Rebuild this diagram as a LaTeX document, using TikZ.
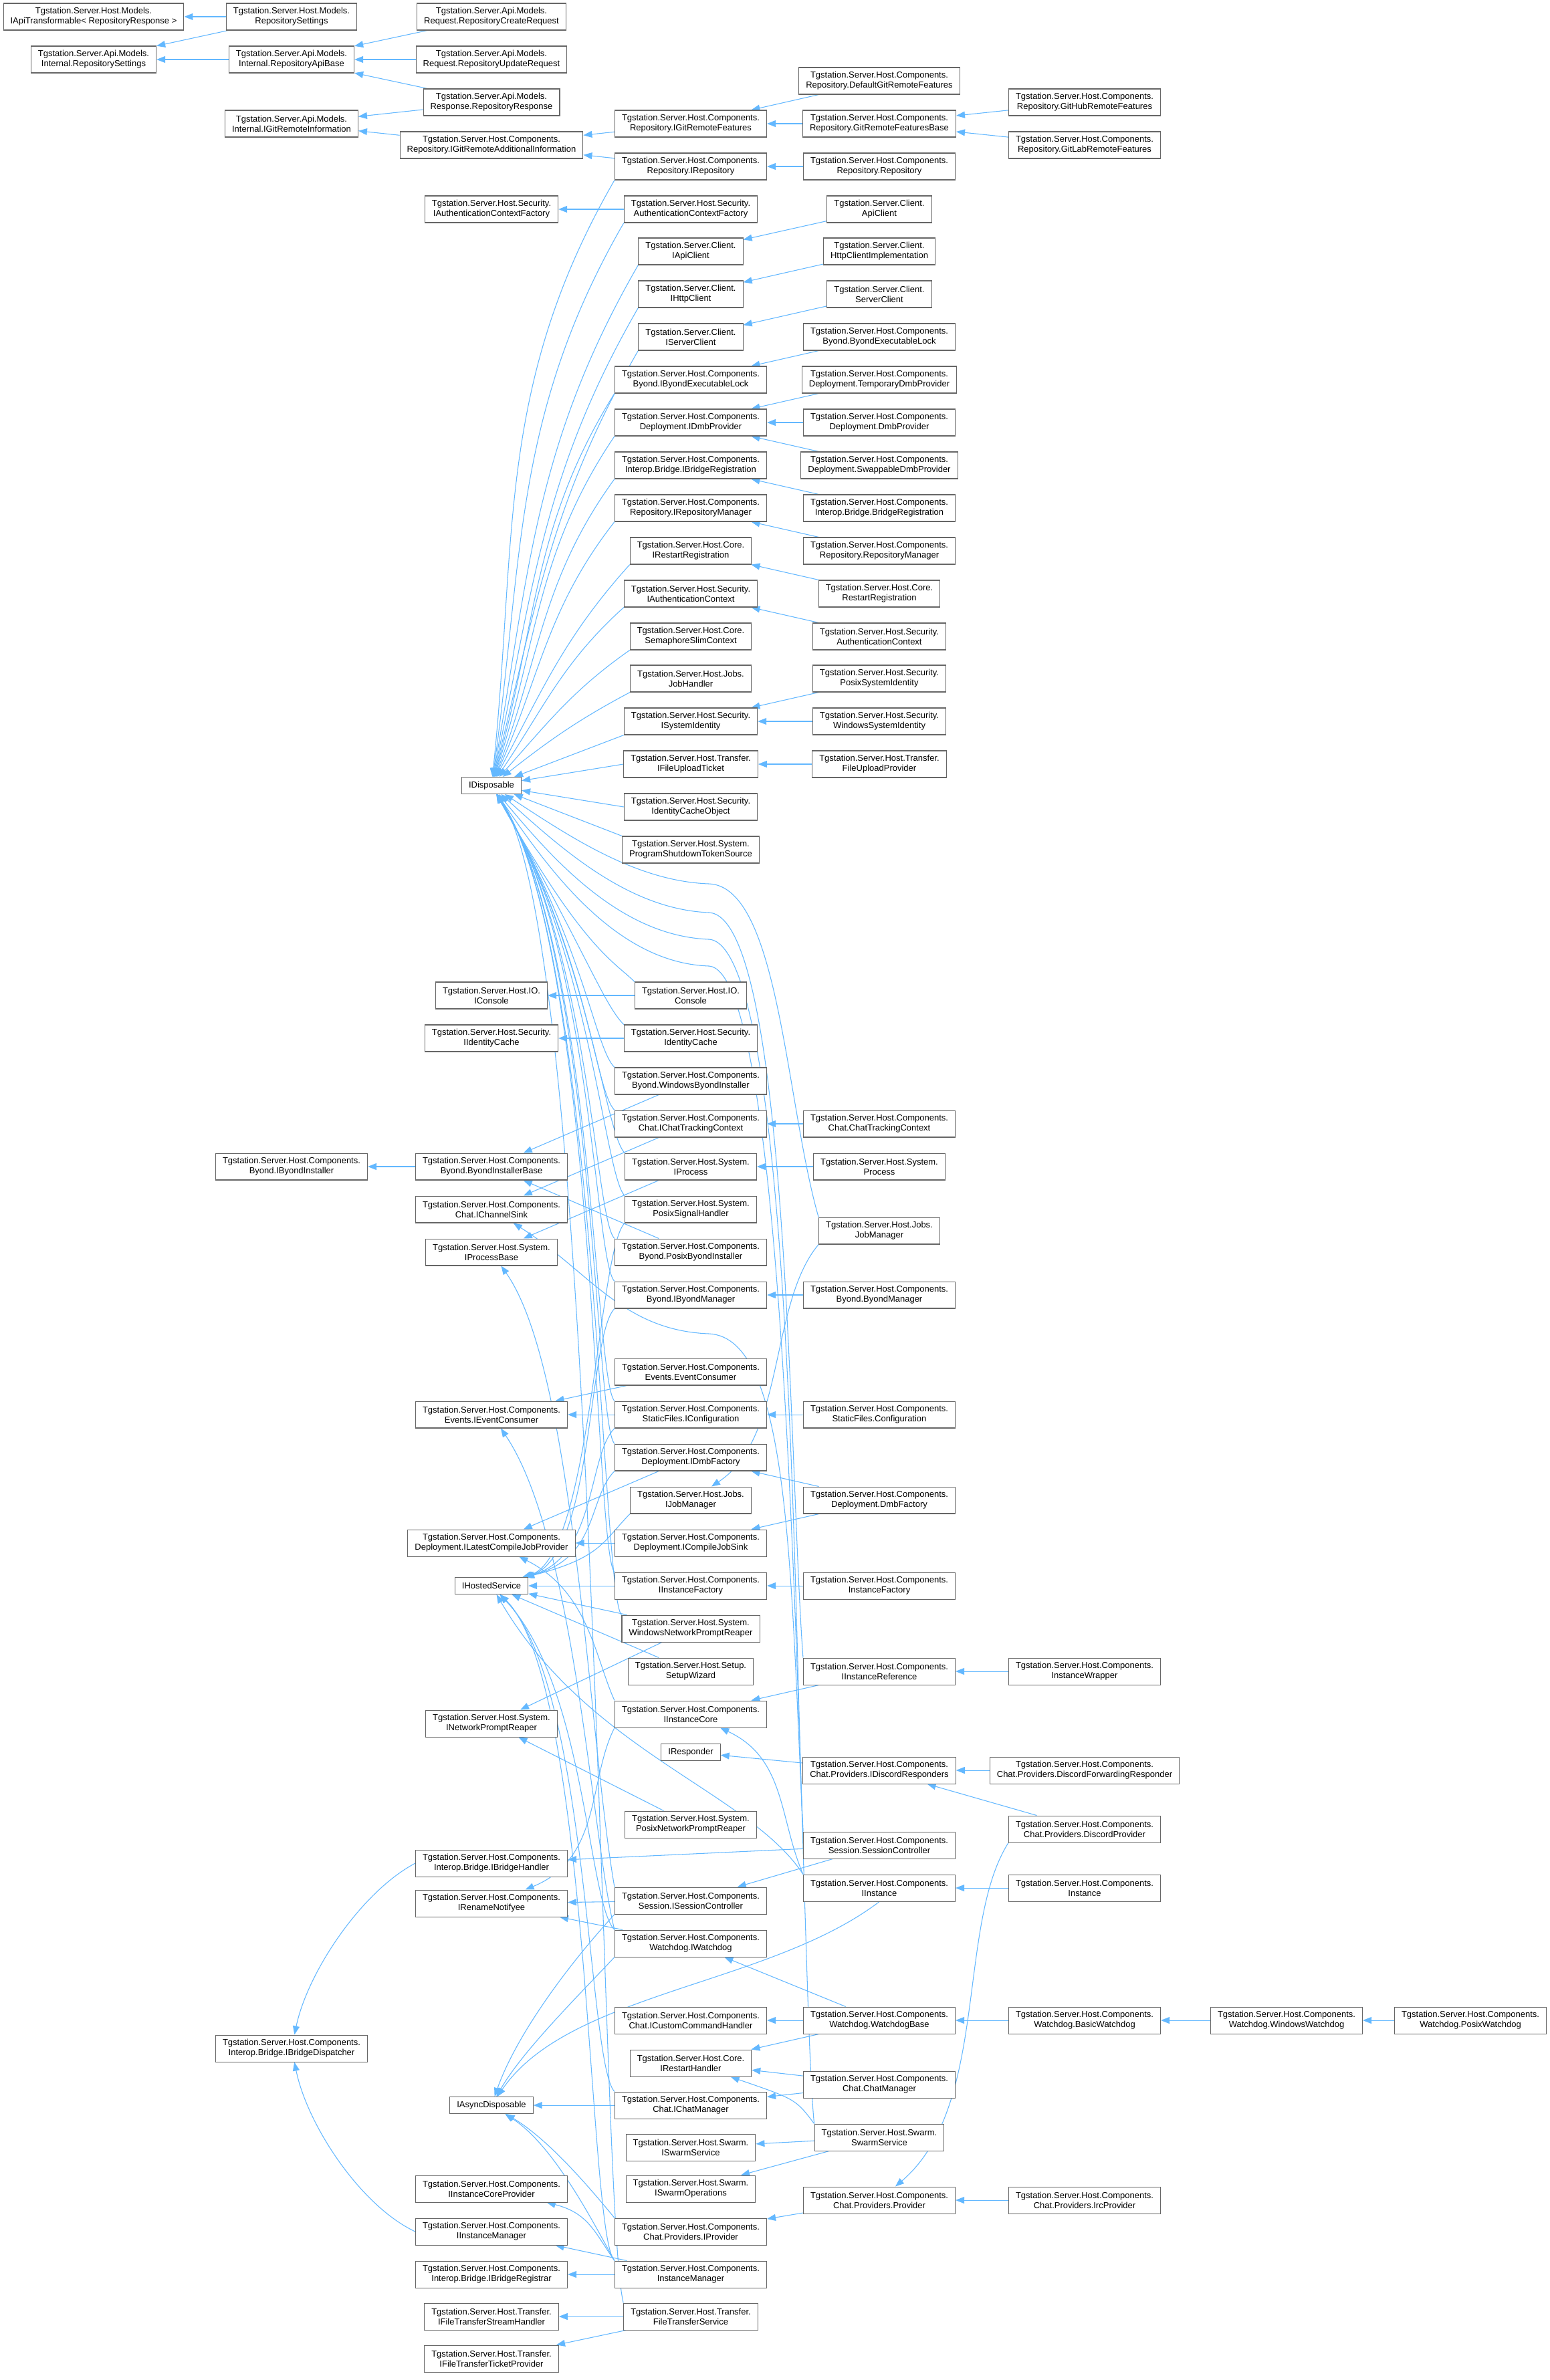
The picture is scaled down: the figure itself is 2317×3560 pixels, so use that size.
\documentclass[tikz,border=0pt]{standalone}
\usepackage{fontspec}
\setmainfont{Liberation Sans}
\usetikzlibrary{arrows.meta, backgrounds}
\definecolor{edgeblue}{HTML}{63B8FF}
\definecolor{boxgray}{HTML}{666666}
\newcommand{\hostc}{Tgstation.Server.Host.Components.}

\begin{document}
\begin{tikzpicture}[x=0.02cm, y=-0.02cm, >={Triangle[length=0.26cm,width=0.2cm]},
    cls/.style={draw=boxgray, fill=white, line width=0.6pt, align=center,
      inner xsep=6pt, inner ysep=0pt, minimum height=0.8cm,
      font=\fontsize{7.4}{8.5}\selectfont},
    cls1/.style={cls, minimum height=0.5cm},
    inh/.style={draw=edgeblue, line width=0.6pt, ->}]
\useasboundingbox (0,0) rectangle (2317,3560);

% column A
\node[cls] (iapitr) at (140,25) {Tgstation.Server.Host.Models.\\IApiTransformable< RepositoryResponse >};
\node[cls] (apirepset) at (140,89) {Tgstation.Server.Api.Models.\\Internal.RepositorySettings};

% column B
\node[cls] (hostrepset) at (436,25) {Tgstation.Server.Host.Models.\\RepositorySettings};
\node[cls] (repapibase) at (436,89) {Tgstation.Server.Api.Models.\\Internal.RepositoryApiBase};
\node[cls] (igitinfo) at (436,185) {Tgstation.Server.Api.Models.\\Internal.IGitRemoteInformation};
\node[cls] (ibyondinst) at (436,1745) {\hostc\\Byond.IByondInstaller};
\node[cls] (ibridgedisp) at (436,3064) {\hostc\\Interop.Bridge.IBridgeDispatcher};

% column C
\node[cls] (repcreate) at (735,25) {Tgstation.Server.Api.Models.\\Request.RepositoryCreateRequest};
\node[cls] (repupdate) at (735,89) {Tgstation.Server.Api.Models.\\Request.RepositoryUpdateRequest};
\node[cls] (represp) at (735,153) {Tgstation.Server.Api.Models.\\Response.RepositoryResponse};
\node[cls] (igitaddinfo) at (735,217) {\hostc\\Repository.IGitRemoteAdditionalInformation};
\node[cls] (iauthctxfac) at (735,313) {Tgstation.Server.Host.Security.\\IAuthenticationContextFactory};
\node[cls1] (idisp) at (735,1175) {IDisposable};
\node[cls] (iconsole) at (735,1489) {Tgstation.Server.Host.IO.\\IConsole};
\node[cls] (iidcache) at (735,1553) {Tgstation.Server.Host.Security.\\IIdentityCache};
\node[cls] (byondinstbase) at (735,1745) {\hostc\\Byond.ByondInstallerBase};
\node[cls] (ichansink) at (735,1809) {\hostc\\Chat.IChannelSink};
\node[cls] (iprocbase) at (735,1873) {Tgstation.Server.Host.System.\\IProcessBase};
\node[cls] (ieventcons) at (735,2116) {\hostc\\Events.IEventConsumer};
\node[cls] (ilatestcjp) at (735,2308) {\hostc\\Deployment.ILatestCompileJobProvider};
\node[cls1] (ihosted) at (735,2372) {IHostedService};
\node[cls] (inetreaper) at (735,2578) {Tgstation.Server.Host.System.\\INetworkPromptReaper};
\node[cls] (ibridgehandler) at (735,2787) {\hostc\\Interop.Bridge.IBridgeHandler};
\node[cls] (irename) at (735,2847) {\hostc\\IRenameNotifyee};
\node[cls1] (iasyncdisp) at (735,3149) {IAsyncDisposable};
\node[cls] (iinstcoreprov) at (735,3274) {\hostc\\IInstanceCoreProvider};
\node[cls] (iinstmgr) at (735,3338) {\hostc\\IInstanceManager};
\node[cls] (ibridgereg) at (735,3402) {\hostc\\Interop.Bridge.IBridgeRegistrar};
\node[cls] (iftstream) at (735,3465) {Tgstation.Server.Host.Transfer.\\IFileTransferStreamHandler};
\node[cls] (ifttick) at (735,3528) {Tgstation.Server.Host.Transfer.\\IFileTransferTicketProvider};

% column D
\node[cls] (igitfeat) at (1033,185) {\hostc\\Repository.IGitRemoteFeatures};
\node[cls] (irepo) at (1033,249) {\hostc\\Repository.IRepository};
\node[cls] (authctxfac) at (1033,313) {Tgstation.Server.Host.Security.\\AuthenticationContextFactory};
\node[cls] (iapiclient) at (1033,376) {Tgstation.Server.Client.\\IApiClient};
\node[cls] (ihttpclient) at (1033,440) {Tgstation.Server.Client.\\IHttpClient};
\node[cls] (iserverclient) at (1033,504) {Tgstation.Server.Client.\\IServerClient};
\node[cls] (ibyondlock) at (1033,568) {\hostc\\Byond.IByondExecutableLock};
\node[cls] (idmbprov) at (1033,632) {\hostc\\Deployment.IDmbProvider};
\node[cls] (ibridgeregn) at (1033,696) {\hostc\\Interop.Bridge.IBridgeRegistration};
\node[cls] (irepomgr) at (1033,760) {\hostc\\Repository.IRepositoryManager};
\node[cls] (irestartreg) at (1033,824) {Tgstation.Server.Host.Core.\\IRestartRegistration};
\node[cls] (iauthctx) at (1033,888) {Tgstation.Server.Host.Security.\\IAuthenticationContext};
\node[cls] (semctx) at (1033,952) {Tgstation.Server.Host.Core.\\SemaphoreSlimContext};
\node[cls] (jobhandler) at (1033,1015) {Tgstation.Server.Host.Jobs.\\JobHandler};
\node[cls] (isysid) at (1033,1079) {Tgstation.Server.Host.Security.\\ISystemIdentity};
\node[cls] (ifileupload) at (1033,1143) {Tgstation.Server.Host.Transfer.\\IFileUploadTicket};
\node[cls] (idcacheobj) at (1033,1207) {Tgstation.Server.Host.Security.\\IdentityCacheObject};
\node[cls] (progshutdown) at (1033,1271) {Tgstation.Server.Host.System.\\ProgramShutdownTokenSource};
\node[cls] (console) at (1033,1489) {Tgstation.Server.Host.IO.\\Console};
\node[cls] (idcache) at (1033,1553) {Tgstation.Server.Host.Security.\\IdentityCache};
\node[cls] (winbyondinst) at (1033,1617) {\hostc\\Byond.WindowsByondInstaller};
\node[cls] (ichattrack) at (1033,1681) {\hostc\\Chat.IChatTrackingContext};
\node[cls] (iprocess) at (1033,1745) {Tgstation.Server.Host.System.\\IProcess};
\node[cls] (posixsig) at (1033,1809) {Tgstation.Server.Host.System.\\PosixSignalHandler};
\node[cls] (posixbyondinst) at (1033,1873) {\hostc\\Byond.PosixByondInstaller};
\node[cls] (ibyondmgr) at (1033,1937) {\hostc\\Byond.IByondManager};
\node[cls] (eventcons) at (1033,2052) {\hostc\\Events.EventConsumer};
\node[cls] (iconfig) at (1033,2116) {\hostc\\StaticFiles.IConfiguration};
\node[cls] (idmbfac) at (1033,2180) {\hostc\\Deployment.IDmbFactory};
\node[cls] (ijobmgr) at (1033,2244) {Tgstation.Server.Host.Jobs.\\IJobManager};
\node[cls] (icjsink) at (1033,2308) {\hostc\\Deployment.ICompileJobSink};
\node[cls] (iinstfac) at (1033,2372) {\hostc\\IInstanceFactory};
\node[cls] (winreaper) at (1033,2436) {Tgstation.Server.Host.System.\\WindowsNetworkPromptReaper};
\node[cls] (setupwiz) at (1033,2500) {Tgstation.Server.Host.Setup.\\SetupWizard};
\node[cls] (iinstcore) at (1033,2564) {\hostc\\IInstanceCore};
\node[cls1] (iresponder) at (1033,2621) {IResponder};
\node[cls] (posixreaper) at (1033,2729) {Tgstation.Server.Host.System.\\PosixNetworkPromptReaper};
\node[cls] (isessctl) at (1033,2843) {\hostc\\Session.ISessionController};
\node[cls] (iwatchdog) at (1033,2907) {\hostc\\Watchdog.IWatchdog};
\node[cls] (icustcmd) at (1033,3022) {\hostc\\Chat.ICustomCommandHandler};
\node[cls] (irestarth) at (1033,3086) {Tgstation.Server.Host.Core.\\IRestartHandler};
\node[cls] (ichatmgr) at (1033,3149) {\hostc\\Chat.IChatManager};
\node[cls] (iswarmsvc) at (1033,3212) {Tgstation.Server.Host.Swarm.\\ISwarmService};
\node[cls] (iswarmops) at (1033,3274) {Tgstation.Server.Host.Swarm.\\ISwarmOperations};
\node[cls] (iprovider) at (1033,3338) {\hostc\\Chat.Providers.IProvider};
\node[cls] (instmgr) at (1033,3402) {\hostc\\InstanceManager};
\node[cls] (ftservice) at (1033,3465) {Tgstation.Server.Host.Transfer.\\FileTransferService};

% column E
\node[cls] (defgitfeat) at (1315,121) {\hostc\\Repository.DefaultGitRemoteFeatures};
\node[cls] (gitfeatbase) at (1315,185) {\hostc\\Repository.GitRemoteFeaturesBase};
\node[cls] (repo) at (1315,249) {\hostc\\Repository.Repository};
\node[cls] (apiclient) at (1315,313) {Tgstation.Server.Client.\\ApiClient};
\node[cls] (httpimpl) at (1315,376) {Tgstation.Server.Client.\\HttpClientImplementation};
\node[cls] (serverclient) at (1315,440) {Tgstation.Server.Client.\\ServerClient};
\node[cls] (byondlock) at (1315,504) {\hostc\\Byond.ByondExecutableLock};
\node[cls] (tmpdmbprov) at (1315,568) {\hostc\\Deployment.TemporaryDmbProvider};
\node[cls] (dmbprov) at (1315,632) {\hostc\\Deployment.DmbProvider};
\node[cls] (swapdmbprov) at (1315,696) {\hostc\\Deployment.SwappableDmbProvider};
\node[cls] (bridgeregn) at (1315,760) {\hostc\\Interop.Bridge.BridgeRegistration};
\node[cls] (repomgr) at (1315,824) {\hostc\\Repository.RepositoryManager};
\node[cls] (restartreg) at (1315,888) {Tgstation.Server.Host.Core.\\RestartRegistration};
\node[cls] (authctx) at (1315,952) {Tgstation.Server.Host.Security.\\AuthenticationContext};
\node[cls] (posixsysid) at (1315,1015) {Tgstation.Server.Host.Security.\\PosixSystemIdentity};
\node[cls] (winsysid) at (1315,1079) {Tgstation.Server.Host.Security.\\WindowsSystemIdentity};
\node[cls] (fileuploadprov) at (1315,1143) {Tgstation.Server.Host.Transfer.\\FileUploadProvider};
\node[cls] (chattrack) at (1315,1681) {\hostc\\Chat.ChatTrackingContext};
\node[cls] (process) at (1315,1745) {Tgstation.Server.Host.System.\\Process};
\node[cls] (jobmgr) at (1315,1841) {Tgstation.Server.Host.Jobs.\\JobManager};
\node[cls] (byondmgr) at (1315,1937) {\hostc\\Byond.ByondManager};
\node[cls] (config) at (1315,2116) {\hostc\\StaticFiles.Configuration};
\node[cls] (dmbfac) at (1315,2244) {\hostc\\Deployment.DmbFactory};
\node[cls] (instfac) at (1315,2372) {\hostc\\InstanceFactory};
\node[cls] (iinstref) at (1315,2500) {\hostc\\IInstanceReference};
\node[cls] (idiscresp) at (1315,2648) {\hostc\\Chat.Providers.IDiscordResponders};
\node[cls] (sessctl) at (1315,2760) {\hostc\\Session.SessionController};
\node[cls] (iinstance) at (1315,2824) {\hostc\\IInstance};
\node[cls] (wdbase) at (1315,3022) {\hostc\\Watchdog.WatchdogBase};
\node[cls] (chatmgr) at (1315,3118) {\hostc\\Chat.ChatManager};
\node[cls] (swarmsvc) at (1315,3197) {Tgstation.Server.Host.Swarm.\\SwarmService};
\node[cls] (provider) at (1315,3291) {\hostc\\Chat.Providers.Provider};

% columns F, G, H
\node[cls] (githubfeat) at (1622,153) {\hostc\\Repository.GitHubRemoteFeatures};
\node[cls] (gitlabfeat) at (1622,217) {\hostc\\Repository.GitLabRemoteFeatures};
\node[cls] (instwrap) at (1622,2500) {\hostc\\InstanceWrapper};
\node[cls] (discfwd) at (1622,2648) {\hostc\\Chat.Providers.DiscordForwardingResponder};
\node[cls] (discprov) at (1622,2736) {\hostc\\Chat.Providers.DiscordProvider};
\node[cls] (instance) at (1622,2824) {\hostc\\Instance};
\node[cls] (basicwd) at (1622,3022) {\hostc\\Watchdog.BasicWatchdog};
\node[cls] (ircprov) at (1622,3291) {\hostc\\Chat.Providers.IrcProvider};
\node[cls] (winwd) at (1924,3022) {\hostc\\Watchdog.WindowsWatchdog};
\node[cls] (posixwd) at (2199,3022) {\hostc\\Watchdog.PosixWatchdog};

\begin{scope}[on background layer]
\fill[white] (0,0) rectangle (2317,3560);

% short links, derived -> base
\foreach \nd/\bs in {hostrepset/iapitr, hostrepset/apirepset, repapibase/apirepset,
    repcreate/repapibase, repupdate/repapibase, represp/repapibase, represp/igitinfo,
    igitaddinfo/igitinfo, igitfeat/igitaddinfo, irepo/igitaddinfo, defgitfeat/igitfeat,
    gitfeatbase/igitfeat, githubfeat/gitfeatbase, gitlabfeat/gitfeatbase, repo/irepo,
    authctxfac/iauthctxfac, apiclient/iapiclient, httpimpl/ihttpclient,
    serverclient/iserverclient, byondlock/ibyondlock, tmpdmbprov/idmbprov,
    dmbprov/idmbprov, swapdmbprov/idmbprov, bridgeregn/ibridgeregn, repomgr/irepomgr,
    restartreg/irestartreg, authctx/iauthctx, posixsysid/isysid, winsysid/isysid,
    fileuploadprov/ifileupload}
  \draw[inh] (\nd) -- (\bs);
\foreach \nd/\bs in {console/iconsole, idcache/iidcache, winbyondinst/byondinstbase,
    posixbyondinst/byondinstbase, byondinstbase/ibyondinst, chattrack/ichattrack,
    ichattrack/ichansink, process/iprocess, iprocess/iprocbase, byondmgr/ibyondmgr,
    eventcons/ieventcons, iconfig/ieventcons, config/iconfig, dmbfac/idmbfac,
    dmbfac/icjsink, idmbfac/ilatestcjp, icjsink/ilatestcjp, instfac/iinstfac,
    iinstfac/ihosted, winreaper/ihosted, setupwiz/ihosted, winreaper/inetreaper,
    posixreaper/inetreaper, instwrap/iinstref, iinstref/iinstcore, idiscresp/iresponder,
    discfwd/idiscresp, discprov/idiscresp, sessctl/ibridgehandler, sessctl/isessctl,
    isessctl/irename, iwatchdog/irename, instance/iinstance, wdbase/iwatchdog,
    wdbase/icustcmd, wdbase/irestarth, basicwd/wdbase, winwd/basicwd, posixwd/winwd,
    chatmgr/irestarth, chatmgr/ichatmgr, ichatmgr/iasyncdisp, swarmsvc/iswarmsvc,
    swarmsvc/iswarmops, provider/iprovider, ircprov/provider, instmgr/iinstmgr,
    instmgr/ibridgereg, ftservice/iftstream, ftservice/ifttick}
  \draw[inh] (\nd) -- (\bs);

% IDisposable
\foreach \nd/\ou/\ia in {irepo/240/84, authctxfac/240/82, iapiclient/240/80,
    ihttpclient/240/78, iserverclient/240/76, ibyondlock/238/74, idmbprov/236/72,
    ibridgeregn/234/69, irepomgr/232/66, irestartreg/228/62, iauthctx/222/56,
    semctx/215/48, jobhandler/208/38}
  \draw[inh] (\nd.south west) to[out=\ou, in=\ia] (idisp);
\draw[inh] (isysid.south west) -- (idisp);
\draw[inh] (ifileupload.west) -- (idisp);
\draw[inh] (idcacheobj.west) -- (idisp);
\draw[inh] (progshutdown.north west) -- (idisp);
\foreach \nd/\vx in {console/872, idcache/874, winbyondinst/876, ichattrack/878,
    iprocess/880, posixsig/882, posixbyondinst/884, ibyondmgr/886, iconfig/888,
    idmbfac/890, iinstfac/892, winreaper/894}
  \draw[inh] (\nd.north west) .. controls +(-30,-30) and (\vx,1420) .. (idisp);
\draw[inh] (ftservice.north west) .. controls (896,3300) and (896,1420) .. (idisp);
\draw[inh] (jobmgr.north west) .. controls (1175,1650) and (1165,1325) .. (1060,1322)
  .. controls (950,1318) and (850,1250) .. (idisp);
\draw[inh] (iinstref.north west) .. controls (1180,2200) and (1180,1370) .. (1060,1365)
  .. controls (940,1360) and (840,1270) .. (idisp);
\draw[inh] (sessctl.north west) .. controls (1188,2500) and (1188,1412) .. (1060,1405)
  .. controls (930,1400) and (830,1290) .. (idisp);
\draw[inh] (swarmsvc.north west) .. controls (1195,2950) and (1195,1452) .. (1060,1445)
  .. controls (920,1440) and (820,1300) .. (idisp);

% IHostedService
\foreach \nd/\vx in {posixsig/884, ibyondmgr/888, iconfig/892, idmbfac/896, ijobmgr/900}
  \draw[inh] (\nd.south west) .. controls +(-40,40) and (\vx,2330) .. (ihosted);
\foreach \nd/\vx in {iwatchdog/876, ichatmgr/880, instmgr/884}
  \draw[inh] (\nd.north west) .. controls +(-40,-40) and (\vx,2520) .. (ihosted);
\draw[inh] (iinstance.north west) .. controls (1120,2680) and (880,2620) .. (ihosted);

% IAsyncDisposable
\draw[inh] (isessctl.south west) .. controls (840,2950) and (770,3050) .. (iasyncdisp);
\draw[inh] (iwatchdog.south west) .. controls (860,2990) and (780,3070) .. (iasyncdisp);
\draw[inh] (iinstance.south) .. controls (1150,2970) and (850,2980) .. (iasyncdisp);
\draw[inh] (iprovider.north west) .. controls (880,3270) and (820,3200) .. (iasyncdisp);
\draw[inh] (instmgr.north west) .. controls (890,3330) and (830,3210) .. (iasyncdisp);

% remaining long links
\draw[inh] (sessctl.north west) .. controls (1182,2350) and (1182,2000) .. (1060,1995)
  .. controls (930,1990) and (880,1900) .. (ichansink);
\draw[inh] (isessctl.north west) .. controls (880,2600) and (860,2050) .. (iprocbase);
\draw[inh] (iwatchdog.north west) .. controls (885,2750) and (860,2300) .. (ieventcons);
\draw[inh] (iinstcore.north west) .. controls (890,2480) and (880,2380) .. (ilatestcjp);
\draw[inh] (iinstcore.south west) .. controls (880,2660) and (900,2780) .. (irename);
\draw[inh] (iinstance.north west) .. controls (1165,2720) and (1175,2630) .. (iinstcore);
\draw[inh] (swarmsvc.north west) .. controls (1190,3140) .. (irestarth);
\draw[inh] (jobmgr.south west) .. controls (1150,1950) and (1175,2150) .. (ijobmgr);
\draw[inh] (discprov.south west) .. controls (1430,2880) and (1480,3150) .. (provider);
\draw[inh] (instmgr.north west) .. controls (890,3340) and (880,3310) .. (iinstcoreprov);
\draw[inh] (ibridgehandler.west) .. controls (540,2830) and (460,2950) .. (ibridgedisp);
\draw[inh] (iinstmgr.west) .. controls (540,3300) and (460,3180) .. (ibridgedisp);
\end{scope}
\end{tikzpicture}
\end{document}
